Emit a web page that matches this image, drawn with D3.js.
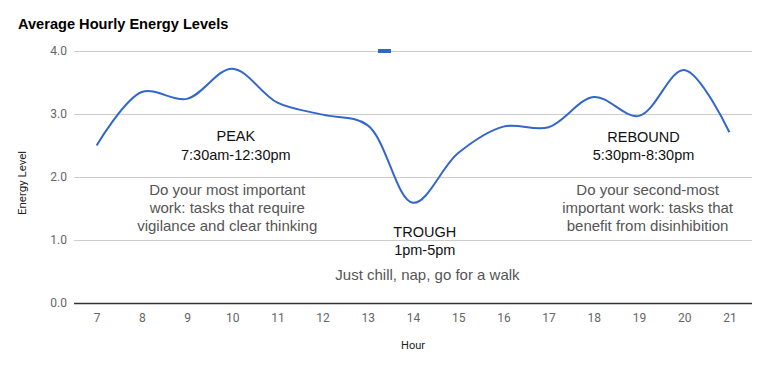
<!DOCTYPE html>
<html>
<head>
<meta charset="utf-8">
<script src="https://cdn.jsdelivr.net/npm/d3@7"></script>
<style>
  body { margin: 0; background: #fff; }
  svg { display: block; }
</style>
</head>
<body>
<div id="chart"></div>
<script>
// chart data
let arrHours = [7, 8, 9, 10, 11, 12, 13, 14, 15, 16, 17, 18, 19, 20, 21];
let arrEnergy = [2.5, 3.35, 3.24, 3.72, 3.18, 2.99, 2.82, 1.59, 2.38, 2.8, 2.79, 3.27, 2.97, 3.7, 2.71];
let arrYTicks = [0, 1, 2, 3, 4];

// annotation text blocks, placed in hour / energy units
let arrNotes = [
  { headHour: 10.08, headLevel: 2.57, head: ["PEAK", "7:30am-12:30pm"],
    bodyHour: 9.89, bodyLevel: 1.71, body: ["Do your most important", "work: tasks that require", "vigilance and clear thinking"] },
  { headHour: 14.26, headLevel: 1.05, head: ["TROUGH", "1pm-5pm"],
    bodyHour: 14.32, bodyLevel: 0.36, body: ["Just chill, nap, go for a walk"] },
  { headHour: 19.1, headLevel: 2.56, head: ["REBOUND", "5:30pm-8:30pm"],
    bodyHour: 19.19, bodyLevel: 1.71, body: ["Do your second-most", "important work: tasks that", "benefit from disinhibition"] }
];

// sizes
let intTotalWid = 768;
let intTotalHgt = 366;
let objPlot = { left: 74, right: 752, top: 51, bottom: 303 };

let svg = d3.select("#chart")
  .append("svg")
  .attr("width", intTotalWid)
  .attr("height", intTotalHgt);

// scales
let fnXScale = d3.scalePoint()
  .domain(arrHours)
  .range([objPlot.left, objPlot.right])
  .padding(0.5);

let fnYScale = d3.scaleLinear()
  .domain([0, 4])
  .range([objPlot.bottom, objPlot.top]);

// linear hour scale for placing the annotations between categories
let fnHourX = d3.scaleLinear()
  .domain([7, 21])
  .range([fnXScale(7), fnXScale(21)]);

// title
svg.append("text")
  .attr("x", 18)
  .attr("y", 29)
  .attr("font-family", "Liberation Sans, Arial, sans-serif")
  .attr("font-weight", "bold")
  .attr("font-size", 14.6)
  .attr("fill", "#000")
  .text("Average Hourly Energy Levels");

// gridlines + y labels
let fnYAxis = d3.axisLeft(fnYScale)
  .tickValues(arrYTicks)
  .tickFormat(d3.format(".1f"))
  .tickSize(-(objPlot.right - objPlot.left))
  .tickPadding(7);

let gY = svg.append("g")
  .attr("transform", `translate(${objPlot.left}, 0)`)
  .call(fnYAxis);
gY.select(".domain").remove();
gY.selectAll(".tick line")
  .attr("stroke", d => d === 0 ? "#333" : "#ccc")
  .attr("stroke-width", d => d === 0 ? 1.5 : 1);
gY.selectAll(".tick text")
  .attr("font-family", "Roboto, Arial, sans-serif")
  .attr("font-size", 12)
  .attr("fill", "#666");

// x labels
let fnXAxis = d3.axisBottom(fnXScale)
  .tickSize(0)
  .tickPadding(10);

let gX = svg.append("g")
  .attr("transform", `translate(0, ${objPlot.bottom})`)
  .call(fnXAxis);
gX.select(".domain").remove();
gX.selectAll(".tick text")
  .attr("font-family", "Roboto, Arial, sans-serif")
  .attr("font-size", 12)
  .attr("fill", "#666");

// axis titles
svg.append("text")
  .attr("x", (objPlot.left + objPlot.right) / 2)
  .attr("y", 349)
  .attr("text-anchor", "middle")
  .attr("font-family", "Roboto, Arial, sans-serif")
  .attr("font-size", 11)
  .attr("fill", "#222")
  .text("Hour");

svg.append("text")
  .attr("transform", "translate(26, 183) rotate(-90)")
  .attr("text-anchor", "middle")
  .attr("font-family", "Roboto, Arial, sans-serif")
  .attr("font-size", 11.5)
  .attr("fill", "#222")
  .text("Energy Level");

// legend marker (series has no name)
svg.append("rect")
  .attr("x", 378)
  .attr("y", 49)
  .attr("width", 13)
  .attr("height", 4)
  .attr("fill", "#3366cc");

// annotations
arrNotes.forEach(obj => {
  obj.head.forEach((s, i) => {
    svg.append("text")
      .attr("x", fnHourX(obj.headHour))
      .attr("y", fnYScale(obj.headLevel) + i * 18.5)
      .attr("text-anchor", "middle")
      .attr("font-family", "Liberation Sans, Arial, sans-serif")
      .attr("font-size", 14.5)
      .attr("fill", "#111")
      .text(s);
  });
  obj.body.forEach((s, i) => {
    svg.append("text")
      .attr("x", fnHourX(obj.bodyHour))
      .attr("y", fnYScale(obj.bodyLevel) + i * 18)
      .attr("text-anchor", "middle")
      .attr("font-family", "Liberation Sans, Arial, sans-serif")
      .attr("font-size", 15)
      .attr("fill", "#555")
      .text(s);
  });
});

// line
let fnLine = d3.line()
  .x((d, i) => fnXScale(arrHours[i]))
  .y(d => fnYScale(d))
  .curve(d3.curveCatmullRom.alpha(0.5));

svg.append("path")
  .datum(arrEnergy)
  .attr("d", fnLine)
  .attr("fill", "none")
  .attr("stroke", "#3366cc")
  .attr("stroke-width", 2);
</script>
</body>
</html>
